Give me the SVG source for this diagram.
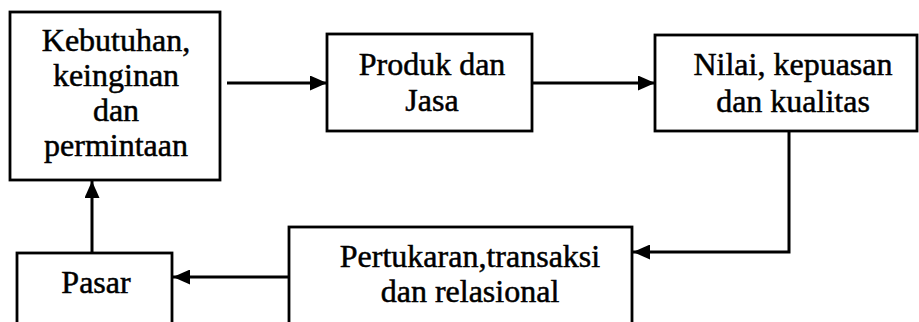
<svg xmlns="http://www.w3.org/2000/svg" width="919" height="322" viewBox="0 0 919 322">
<defs>
<style>
.box{fill:#fff;stroke:#000;stroke-width:2.8}
.lbl{font-family:"Liberation Serif","Times New Roman",serif;font-size:32px;fill:#000;stroke:#000;stroke-width:0.5;text-anchor:middle}
.con{fill:none;stroke:#000;stroke-width:3}
</style>
<marker id="ah" viewBox="0 0 17 15" refX="17" refY="7.5" markerWidth="17" markerHeight="15" markerUnits="userSpaceOnUse" orient="auto">
<path d="M0,0 L17,7.5 L0,15 Z" fill="#000"/>
</marker>
</defs>
<rect width="919" height="322" fill="#fff"/>
<g id="n1">
<rect class="box" x="10" y="12" width="210" height="168"/>
<text class="lbl" x="116" y="51">Kebutuhan,</text>
<text class="lbl" x="116" y="86">keinginan</text>
<text class="lbl" x="116" y="121">dan</text>
<text class="lbl" x="116" y="156">permintaan</text>
</g>
<g id="n2">
<rect class="box" x="327" y="34" width="205" height="97"/>
<text class="lbl" x="432" y="75">Produk dan</text>
<text class="lbl" x="432" y="111">Jasa</text>
</g>
<g id="n3">
<rect class="box" x="655" y="35" width="262" height="96"/>
<text class="lbl" x="793" y="75">Nilai, kepuasan</text>
<text class="lbl" x="793" y="112">dan kualitas</text>
</g>
<g id="n4">
<rect class="box" x="289" y="227" width="343" height="110"/>
<text class="lbl" x="470" y="267">Pertukaran,transaksi</text>
<text class="lbl" x="470" y="302">dan relasional</text>
</g>
<g id="n5">
<rect class="box" x="17" y="253" width="155" height="90"/>
<text class="lbl" x="96" y="293">Pasar</text>
</g>
<g id="connectors">
<line class="con" x1="227" y1="83" x2="327" y2="83" marker-end="url(#ah)"/>
<line class="con" x1="532" y1="83" x2="655" y2="83" marker-end="url(#ah)"/>
<polyline class="con" points="789,131 789,252 633,252" marker-end="url(#ah)"/>
<line class="con" x1="289" y1="277" x2="173" y2="277" marker-end="url(#ah)"/>
<line class="con" x1="92" y1="253" x2="92" y2="181" marker-end="url(#ah)"/>
</g>
</svg>
